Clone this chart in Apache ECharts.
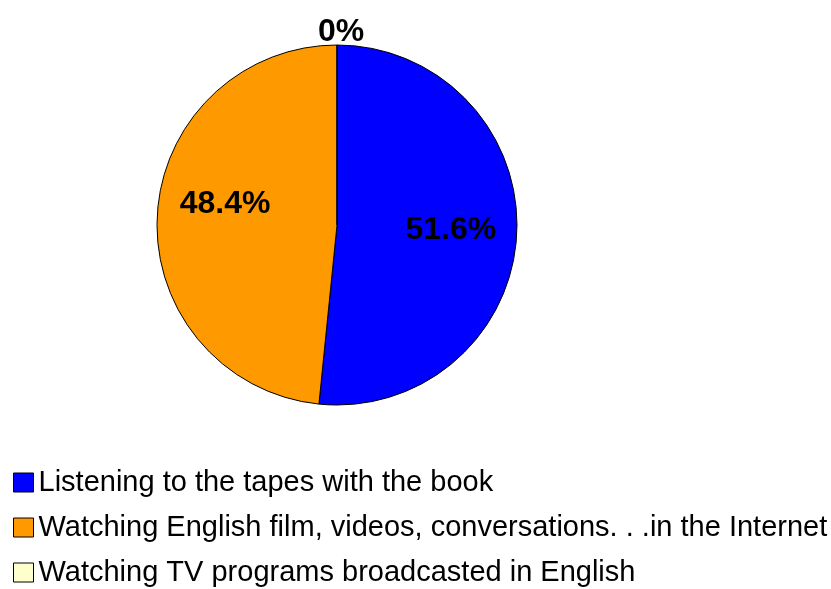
<!DOCTYPE html>
<html>
<head>
<meta charset="utf-8">
<script src="https://cdn.jsdelivr.net/npm/echarts@6/dist/echarts.min.js"></script>
<style>
  html, body { margin: 0; padding: 0; background: #fff; }
  #chart { width: 831px; height: 589px; }
</style>
</head>
<body>
<div id="chart"></div>
<script>
// Ways of practising English listening (share of respondents, %)
const categories = [
  'Listening to the tapes with the book',
  'Watching English film, videos, conversations. . .in the Internet',
  'Watching TV programs broadcasted in English'
];
const shares = [51.6, 48.4, 0];
const sliceColors = ['#0000ff', '#ff9900', '#ffffcc'];
// label nudges from the default inside position
const labelOffsets = [[21, 0], [-19, -16], [4, -100]];

const chart = echarts.init(document.getElementById('chart'), null, { renderer: 'canvas' });

chart.setOption({
  animation: false,
  backgroundColor: '#ffffff',
  legend: {
    orient: 'vertical',
    left: 8,
    top: 463,
    height: 140,
    icon: 'rect',
    itemWidth: 20,
    itemHeight: 19,
    itemGap: 16,
    itemTextGap: 9,
    itemStyle: { borderColor: '#000', borderWidth: 1 },
    textStyle: {
      fontFamily: 'Liberation Sans, Arial, sans-serif',
      fontSize: 29,
      lineHeight: 29,
      color: '#000'
    },
    data: categories
  },
  series: [{
    type: 'pie',
    center: [337, 225],
    radius: 180,
    startAngle: 90,
    clockwise: true,
    avoidLabelOverlap: false,
    stillShowZeroSum: true,
    itemStyle: { borderColor: '#000', borderWidth: 1 },
    label: {
      show: true,
      position: 'inside',
      formatter: '{c}%',
      fontFamily: 'Liberation Sans, Arial, sans-serif',
      fontWeight: 'bold',
      fontSize: 32,
      color: '#000'
    },
    labelLine: { show: false },
    emphasis: { disabled: true },
    data: categories.map((name, i) => ({
      name: name,
      value: shares[i],
      itemStyle: { color: sliceColors[i] },
      label: { offset: labelOffsets[i] }
    }))
  }]
});
</script>
</body>
</html>
